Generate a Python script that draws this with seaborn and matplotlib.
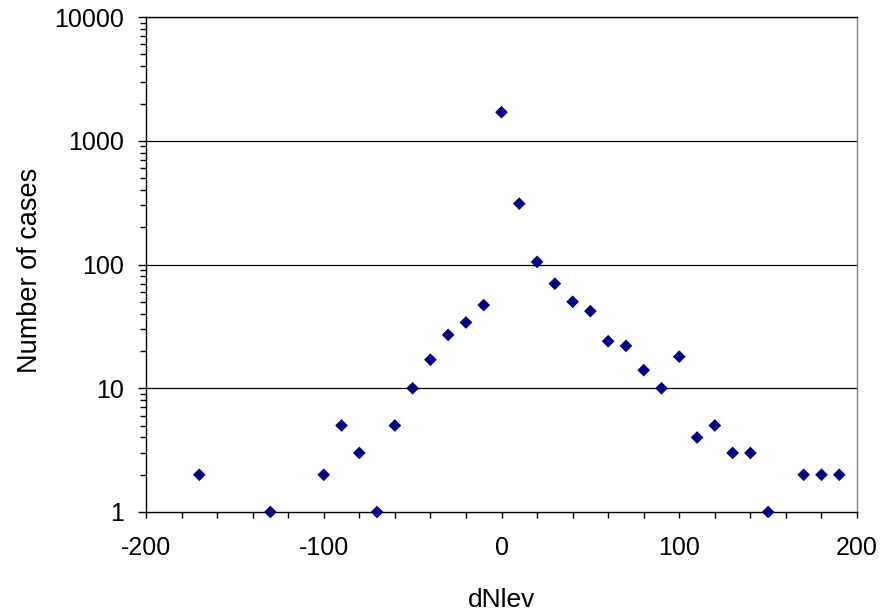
import matplotlib
matplotlib.use("Agg")
import matplotlib.pyplot as plt
import matplotlib.ticker as mticker
import seaborn as sns
import pandas as pd

dnlev = [-170, -130, -100, -90, -80, -70, -60, -50, -40, -30, -20, -10,
         0, 10, 20, 30, 40, 50, 60, 70, 80, 90, 100, 110, 120, 130, 140, 150,
         170, 180, 190]
cases = [2, 1, 2, 5, 3, 1, 5, 10, 17, 27, 34, 47,
         1700, 310, 105, 70, 50, 42, 24, 22, 14, 10, 18, 4, 5, 3, 3, 1,
         2, 2, 2]
y_ticks = [1, 10, 100, 1000, 10000]
y_tick_labels = ["1", "10", "100", "1000", "10000"]
x_ticks = [-200, -100, 0, 100, 200]

df = pd.DataFrame({"dNlev": dnlev, "cases": cases})

sns.set_style("white")
plt.rcParams['font.family'] = ['Liberation Sans', 'DejaVu Sans']
plt.rcParams['text.color'] = 'black'
plt.rcParams['axes.labelcolor'] = 'black'
plt.rcParams['xtick.color'] = 'black'
plt.rcParams['ytick.color'] = 'black'

fig = plt.figure(figsize=(8.82, 6.12), dpi=100)
ax = fig.add_axes([0.1655, 0.1634, 0.8062, 0.8088])

sns.scatterplot(data=df, x="dNlev", y="cases", ax=ax, marker="D", s=42,
                color="#000080", edgecolor="none", linewidth=0, clip_on=False, zorder=5)

ax.set_yscale("log")
ax.set_ylim(1, 10000)
ax.set_xlim(-200, 200)
ax.set_yticks(y_ticks)
ax.set_yticklabels(y_tick_labels)
ax.yaxis.set_minor_locator(mticker.LogLocator(base=10, subs=range(2, 10)))
ax.yaxis.set_minor_formatter(mticker.NullFormatter())
ax.set_xticks(x_ticks)
ax.set_xticklabels([str(v) for v in x_ticks])
ax.xaxis.set_minor_locator(mticker.MultipleLocator(20))

for v in [10, 100, 1000, 10000]:
    ax.axhline(v, color="black", linewidth=0.9, zorder=1)

ax.tick_params(axis="y", which="major", direction="out", length=6, width=1,
               labelsize=18, pad=10, left=True)
ax.tick_params(axis="y", which="minor", direction="out", length=4.5, width=1, left=True)
ax.tick_params(axis="x", which="major", direction="out", length=4.5, width=1,
               labelsize=18, pad=13, bottom=True)
ax.tick_params(axis="x", which="minor", direction="out", length=4.5, width=1, bottom=True)

for s in ["left", "bottom", "top"]:
    ax.spines[s].set_color("black")
    ax.spines[s].set_linewidth(1.0)
ax.spines["right"].set_color("#808080")
ax.spines["right"].set_linewidth(1.0)

ax.set_xlabel("dNlev", fontsize=19, labelpad=20)
ax.set_ylabel("Number of cases", fontsize=19.5, labelpad=12)
ax.yaxis.set_label_coords(-0.145, 0.489)

fig.savefig("out.png", dpi=100)
